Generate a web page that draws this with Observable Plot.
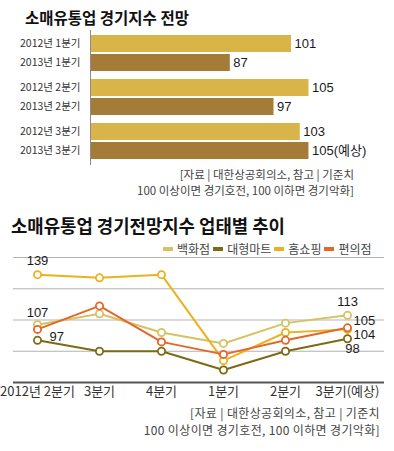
<!DOCTYPE html>
<html><head><meta charset="utf-8">
<script src="https://cdn.jsdelivr.net/npm/d3@7"></script>
<script src="https://cdn.jsdelivr.net/npm/@observablehq/plot@0.6"></script>
<style>
body{margin:0;background:#fff;font-family:"Noto Sans CJK KR","Noto Sans",sans-serif;}
#wrap{position:relative;width:394px;height:451px;overflow:hidden;background:#fff;}
.abs{position:absolute;white-space:nowrap;}
.title{font-weight:700;color:#111;}
.cap{text-align:right;color:#444;}
.legend{display:flex;align-items:center;font-size:12px;line-height:14px;color:#444;}
.legend .sw{display:inline-block;width:10px;height:4px;margin-right:4px;}
.legend .it{display:flex;align-items:center;margin-right:3px;}
</style></head><body><div id="wrap"></div>
<script>
// ---- data: top bar chart ----
const barCategories = ["1분기","2분기","3분기"];
const barYears = ["2012년","2013년"];
const barValues2012 = [101,105,103];
const barValues2013 = [87,97,105];
const barLabels2012 = ["101","105","103"];
const barLabels2013 = ["87","97","105(예상)"];
const barColors = ["#d8b449","#a47c37"];

// ---- data: line chart ----
const quarters = ["2012년 2분기","3분기","4분기","1분기","2분기","3분기(예상)"];
const seriesNames = ["백화점","대형마트","홈쇼핑","편의점"];
const seriesColors = ["#d6c263","#7c6a14","#ecb21e","#e4672a"];
const dept = [107,114,102,95,108,113];
const mart = [97,90,90,78,90,98];
const homeShop = [139,137,139,84,102,104];
const conv = [104,119,96,88,97,105];
const yDomain = [70,150];
const gridTicks = [90,110,130,150];

const wrap = document.getElementById("wrap");
function addDiv(html, css, cls){
  const d = document.createElement("div");
  d.className = "abs " + (cls||"");
  d.innerHTML = html;
  Object.assign(d.style, css);
  wrap.appendChild(d);
  return d;
}

// Title 1
addDiv("소매유통업 경기지수 전망", {left:"25px", top:"7px", fontSize:"15.5px", lineHeight:"20px"}, "title");

// Bar chart
const barRows = [];
barCategories.forEach((q,i)=>{
  barRows.push({quarter:q, year:barYears[0], value:barValues2012[i], label:barLabels2012[i]});
  barRows.push({quarter:q, year:barYears[1], value:barValues2013[i], label:barLabels2013[i]});
});
const barPlot = Plot.plot({
  width:394, height:150, marginLeft:90, marginRight:20, marginTop:9, marginBottom:12,
  style:{background:"transparent", overflow:"visible", fontFamily:"'Liberation Sans','Noto Sans CJK KR',sans-serif"},
  x:{domain:[55,120], axis:null},
  y:{domain:barYears, axis:null, paddingInner:0.08, paddingOuter:0.05},
  fy:{domain:barCategories, axis:null, paddingInner:0.117, paddingOuter:0},
  color:{domain:barYears, range:barColors},
  marks:[
    Plot.barX(barRows,{x:"value", y:"year", fy:"quarter", fill:"year", clip:true}),
    Plot.ruleX([55],{stroke:"#8c8c8c", strokeWidth:1, insetTop:-4, insetBottom:-4}),
    Plot.text(barRows,{fy:"quarter", y:"year", text:d=>d.year+" "+d.quarter, frameAnchor:"left", textAnchor:"end", dx:-10, fontSize:10.5, fill:"#333", fontFamily:"'Noto Sans CJK KR',sans-serif"}),
    Plot.text(barRows,{x:"value", y:"year", fy:"quarter", text:"label", textAnchor:"start", dx:3, fontSize:13, fill:"#1a1a1a"})
  ]
});
const s1 = document.createElement("div");
s1.className = "abs"; s1.style.left = "0px"; s1.style.top = "24px";
s1.appendChild(barPlot); wrap.appendChild(s1);

// Caption 1
addDiv("[자료 | 대한상공회의소, 참고 | 기준치<br>100 이상이면 경기호전, 100 이하면 경기악화]",
  {right:"40px", top:"166px", fontSize:"11.5px", lineHeight:"16px"}, "cap");

// Title 2
addDiv("소매유통업 경기전망지수 업태별 추이", {left:"11px", top:"214px", fontSize:"17.8px", lineHeight:"23px"}, "title");

// Line chart
const seriesValues = [dept, mart, homeShop, conv];
const lineRows = seriesNames.flatMap((s,i)=>quarters.map((q,j)=>({series:s, quarter:q, value:seriesValues[i][j], idx:j})));
const firstOf = s => lineRows.filter(d=>d.series===s && d.idx===0);
const lastOf = s => lineRows.filter(d=>d.series===s && d.idx===quarters.length-1);
const lblStyle = {x:"quarter", y:"value", text:d=>String(d.value), fontSize:13, fill:"#1a1a1a", fontFamily:"'Liberation Sans',sans-serif"};
const linePlot = Plot.plot({
  width:394, height:162, marginLeft:36, marginRight:47, marginTop:13, marginBottom:24,
  style:{background:"transparent", overflow:"visible", fontSize:"13px", color:"#333", fontFamily:"'Noto Sans CJK KR',sans-serif"},
  x:{domain:quarters, type:"point", padding:0, tickSize:0, tickPadding:4, label:null},
  y:{domain:yDomain, axis:null},
  color:{domain:seriesNames, range:seriesColors},
  marks:[
    Plot.ruleY(gridTicks,{stroke:"#b3b3b3", strokeWidth:1, insetLeft:-23, insetRight:-37}),
    Plot.ruleY([yDomain[0]],{stroke:"#555", strokeWidth:2.2, insetLeft:-23, insetRight:-37}),
    Plot.line(lineRows,{x:"quarter", y:"value", z:"series", stroke:"series", strokeWidth:2}),
    Plot.dot(lineRows,{x:"quarter", y:"value", stroke:"series", fill:"white", r:3.6, strokeWidth:1.8}),
    Plot.text(firstOf("홈쇼핑"),{...lblStyle, dy:-14}),
    Plot.text(firstOf("백화점"),{...lblStyle, dy:-12}),
    Plot.text(firstOf("대형마트"),{...lblStyle, dx:12, dy:-3, textAnchor:"start"}),
    Plot.text(lastOf("백화점"),{...lblStyle, dy:-13}),
    Plot.text(lastOf("편의점"),{...lblStyle, dx:6, dy:-7, textAnchor:"start"}),
    Plot.text(lastOf("홈쇼핑"),{...lblStyle, dx:6, dy:5, textAnchor:"start"}),
    Plot.text(lastOf("대형마트"),{...lblStyle, dx:5, dy:10})
  ]
});
const s2 = document.createElement("div");
s2.className = "abs"; s2.style.left = "0px"; s2.style.top = "244px";
s2.appendChild(linePlot); wrap.appendChild(s2);

// Legend
const lg = addDiv("", {left:"163px", top:"242px"}, "legend");
seriesNames.forEach((s,i)=>{
  const it = document.createElement("span"); it.className = "it";
  it.innerHTML = `<span class="sw" style="background:${seriesColors[i]}"></span>${s}`;
  lg.appendChild(it);
});

// Caption 2
addDiv("[자료 | 대한상공회의소, 참고 | 기준치<br>100 이상이면 경기호전, 100 이하면 경기악화]",
  {right:"14px", top:"405px", fontSize:"12px", lineHeight:"16.5px", letterSpacing:"0.35px"}, "cap");
</script></body></html>
